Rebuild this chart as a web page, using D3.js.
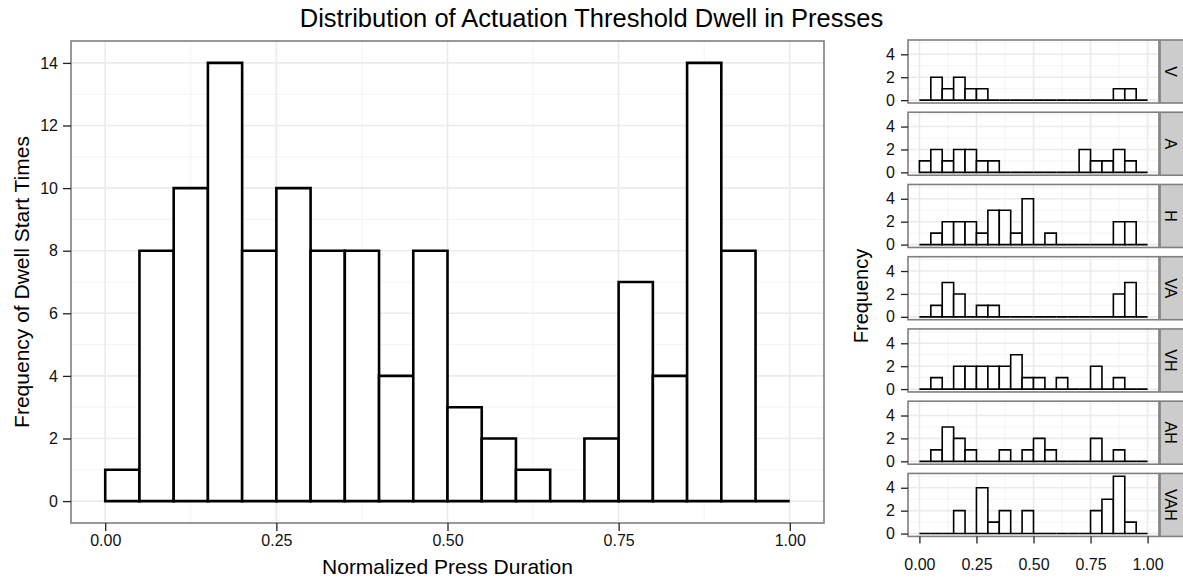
<!DOCTYPE html>
<html>
<head>
<meta charset="utf-8">
<script src="https://cdn.jsdelivr.net/npm/d3@7"></script>
<style>
  body { margin: 0; background: #fff; }
  svg { font-family: "Liberation Sans", Arial, sans-serif; }
  .tick text { font-size: 16px; fill: #111; }
</style>
</head>
<body>
<svg class="ex-svg" width="1183" height="581"></svg>
<script>
// bins are 0.05 wide, this is the left edge of each one
const binStarts = [0, 0.05, 0.1, 0.15, 0.2, 0.25, 0.3, 0.35, 0.4, 0.45,
                   0.5, 0.55, 0.6, 0.65, 0.7, 0.75, 0.8, 0.85, 0.9, 0.95]
const binWidth = 0.05

// counts for the big histogram (all presses)
const allCounts = [1, 8, 10, 14, 8, 10, 8, 8, 4, 8, 3, 2, 1, 0, 2, 7, 4, 14, 8, 0]

// counts per condition
const facetNames = ['V', 'A', 'H', 'VA', 'VH', 'AH', 'VAH']
const countsV   = [0, 2, 1, 2, 1, 1, 0, 0, 0, 0, 0, 0, 0, 0, 0, 0, 0, 1, 1, 0]
const countsA   = [1, 2, 1, 2, 2, 1, 1, 0, 0, 0, 0, 0, 0, 0, 2, 1, 1, 2, 1, 0]
const countsH   = [0, 1, 2, 2, 2, 1, 3, 3, 1, 4, 0, 1, 0, 0, 0, 0, 0, 2, 2, 0]
const countsVA  = [0, 1, 3, 2, 0, 1, 1, 0, 0, 0, 0, 0, 0, 0, 0, 0, 0, 2, 3, 0]
const countsVH  = [0, 1, 0, 2, 2, 2, 2, 2, 3, 1, 1, 0, 1, 0, 0, 2, 0, 1, 0, 0]
const countsAH  = [0, 1, 3, 2, 1, 0, 0, 1, 0, 1, 2, 1, 0, 0, 0, 2, 0, 1, 0, 0]
const countsVAH = [0, 0, 0, 2, 0, 4, 1, 2, 0, 2, 0, 0, 0, 0, 0, 2, 3, 5, 1, 0]
const facetCounts = [countsV, countsA, countsH, countsVA, countsVH, countsAH, countsVAH]

const xTicks = [0, 0.25, 0.5, 0.75, 1]
const xMinor = [0.125, 0.375, 0.625, 0.875]
const mainYTicks = [0, 2, 4, 6, 8, 10, 12, 14]
const mainYMinor = [1, 3, 5, 7, 9, 11, 13]
const facetYTicks = [0, 2, 4]
const facetYMinor = [1, 3, 5]

const titleText = 'Distribution of Actuation Threshold Dwell in Presses'
const xTitle = 'Normalized Press Duration'
const yTitle = 'Frequency of Dwell Start Times'
const facetYTitle = 'Frequency'

const svg = d3.select('.ex-svg')
const border = '#7f7f7f'
const fmt = d3.format('.2f')
const intFmt = d3.format('d')

// draws one ggplot-ish panel: grid, bars, border
const drawPanel = (g, x, y, counts, yMajor, yMinor, barStroke) => {
    const [x0, x1] = x.range()
    const [y1, y0] = y.range()

    g.selectAll('.minor-x').data(xMinor).enter().append('line')
        .attr('x1', d => x(d)).attr('x2', d => x(d))
        .attr('y1', y0).attr('y2', y1)
        .attr('stroke', '#f4f4f4').attr('stroke-width', 1)
    g.selectAll('.minor-y').data(yMinor).enter().append('line')
        .attr('x1', x0).attr('x2', x1)
        .attr('y1', d => y(d)).attr('y2', d => y(d))
        .attr('stroke', '#f4f4f4').attr('stroke-width', 1)
    g.selectAll('.major-x').data(xTicks).enter().append('line')
        .attr('x1', d => x(d)).attr('x2', d => x(d))
        .attr('y1', y0).attr('y2', y1)
        .attr('stroke', '#ebebeb').attr('stroke-width', 1.6)
    g.selectAll('.major-y').data(yMajor).enter().append('line')
        .attr('x1', x0).attr('x2', x1)
        .attr('y1', d => y(d)).attr('y2', d => y(d))
        .attr('stroke', '#ebebeb').attr('stroke-width', 1.6)

    // bars as paths so that empty bins still show up as a flat line
    g.selectAll('.bar').data(counts).enter().append('path')
        .attr('d', (d, i) => {
            const p = d3.path()
            const a = x(binStarts[i])
            const b = x(binStarts[i] + binWidth)
            p.moveTo(a, y(0))
            p.lineTo(a, y(d))
            p.lineTo(b, y(d))
            p.lineTo(b, y(0))
            p.closePath()
            return p.toString()
        })
        .attr('fill', '#fff')
        .attr('stroke', '#000')
        .attr('stroke-width', barStroke)

    g.append('rect')
        .attr('x', x0).attr('y', y0)
        .attr('width', x1 - x0).attr('height', y1 - y0)
        .attr('fill', 'none').attr('stroke', border).attr('stroke-width', 1.6)
}

// ---- big histogram on the left ----

const mainX = d3.scaleLinear().domain([-0.05, 1.05]).range([71, 824])
const mainY = d3.scaleLinear().domain([-0.7, 14.7]).range([523, 41])

const main = svg.append('g')
drawPanel(main, mainX, mainY, allCounts, mainYTicks, mainYMinor, 2.6)

main.append('g')
    .attr('transform', 'translate(71,0)')
    .call(d3.axisLeft(mainY).tickValues(mainYTicks).tickFormat(intFmt).tickSize(8).tickPadding(5))
    .call(a => a.select('.domain').remove())

main.append('g')
    .attr('transform', 'translate(0,523)')
    .call(d3.axisBottom(mainX).tickValues(xTicks).tickFormat(fmt).tickSize(8).tickPadding(4))
    .call(a => a.select('.domain').remove())

main.append('text')
    .attr('x', (71 + 824) / 2).attr('y', 574)
    .attr('text-anchor', 'middle')
    .style('font-size', '21px')
    .text(xTitle)

main.append('text')
    .attr('transform', `translate(29,${(41 + 523) / 2}) rotate(-90)`)
    .attr('text-anchor', 'middle')
    .style('font-size', '21px')
    .text(yTitle)

// ---- small multiples on the right ----

const facetX = d3.scaleLinear().domain([-0.05, 1.05]).range([908, 1159])
const panelTop = d3.scaleBand().domain(facetNames).range([40, 537]).paddingInner(0.12)

facetNames.forEach((name, i) => {
    const top = panelTop(name)
    const bottom = top + 63
    const fy = d3.scaleLinear().domain([-0.25, 5.25]).range([bottom, top])
    const g = svg.append('g')
    drawPanel(g, facetX, fy, facetCounts[i], facetYTicks, facetYMinor, 1.6)

    g.append('g')
        .attr('transform', 'translate(908,0)')
        .call(d3.axisLeft(fy).tickValues(facetYTicks).tickFormat(intFmt).tickSize(7).tickPadding(6))
        .call(a => a.select('.domain').remove())

    // strip on the right side
    g.append('rect')
        .attr('x', 1160).attr('y', top)
        .attr('width', 26).attr('height', bottom - top)
        .attr('fill', '#cccccc').attr('stroke', border).attr('stroke-width', 1.6)
    g.append('text')
        .attr('transform', `translate(1171,${(top + bottom) / 2}) rotate(90)`)
        .attr('text-anchor', 'middle')
        .attr('dy', '0.35em')
        .style('font-size', '16px')
        .text(name)

    if (i === facetNames.length - 1) {
        g.append('g')
            .attr('transform', `translate(0,${bottom})`)
            .call(d3.axisBottom(facetX).tickValues(xTicks).tickFormat(fmt).tickSize(7).tickPadding(15))
            .call(a => a.select('.domain').remove())
    }
})

svg.append('text')
    .attr('transform', `translate(868,296) rotate(-90)`)
    .attr('text-anchor', 'middle')
    .style('font-size', '20px')
    .text(facetYTitle)

svg.selectAll('.tick line').attr('stroke', '#222').attr('stroke-width', 1.3)

svg.append('text')
    .attr('x', 1183 / 2).attr('y', 27)
    .attr('text-anchor', 'middle')
    .style('font-size', '25.5px')
    .text(titleText)
</script>
</body>
</html>
